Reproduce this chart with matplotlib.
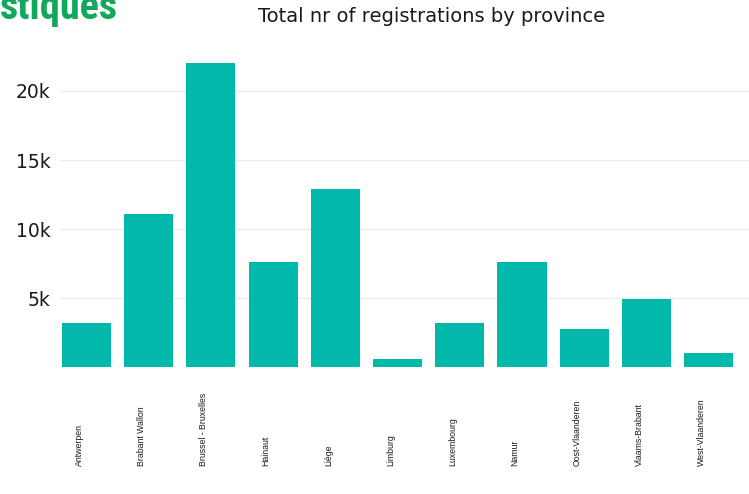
import matplotlib.pyplot as plt
import matplotlib.transforms as mtransforms
from matplotlib.ticker import FuncFormatter

provinces = ['Antwerpen', 'Brabant Wallon', 'Brussel - Bruxelles', 'Hainaut', 'Liège',
             'Limburg', 'Luxembourg', 'Namur', 'Oost-Vlaanderen', 'Vlaams-Brabant',
             'West-Vlaanderen']
registrations = [3200, 11100, 22000, 7600, 12900, 580, 3200, 7600, 2750, 4930, 1010]
y_ticks = [5000, 10000, 15000, 20000]

fig = plt.figure(figsize=(7.49, 4.94), dpi=100)
ax = fig.add_axes([60 / 749, 127 / 494, 689 / 749, 310.5 / 494])

ax.bar(range(len(provinces)), registrations, width=0.79, color='#01b8aa', zorder=2)
ax.set_xlim(-0.426, 10.65)
ax.set_ylim(0, 22500)

ax.set_yticks(y_ticks)
ax.yaxis.set_major_formatter(FuncFormatter(lambda v, p: f'{int(v / 1000)}k'))
ax.grid(axis='y', color='#ececec', linewidth=1, zorder=0)
for s in ax.spines.values():
    s.set_visible(False)
ax.tick_params(axis='y', length=0, pad=7, labelsize=13.5, labelcolor='#1a1a1a')

ax.set_xticks(range(len(provinces)))
ax.set_xticklabels(provinces, rotation=90, va='bottom', ha='center',
                   fontsize=6.3, family='Liberation Sans', color='#1a1a1a')
ax.tick_params(axis='x', length=0, pad=71.5)
shift = mtransforms.ScaledTranslation(-7 / 100, 0, fig.dpi_scale_trans)
for lbl in ax.get_xticklabels():
    lbl.set_transform(lbl.get_transform() + shift)

fig.text(432 / 749, 1 - 17 / 494, 'Total nr of registrations by province',
         ha='center', va='center', fontsize=14, color='#1a1a1a')

fig.text(0.0, 1 - 19 / 494, 'stiques', ha='left', va='baseline', fontsize=29,
         fontweight='bold', fontstretch='condensed',
         family=['Roboto Condensed', 'DejaVu Sans'], color='#10a85a')

fig.savefig('out.png', dpi=100)
